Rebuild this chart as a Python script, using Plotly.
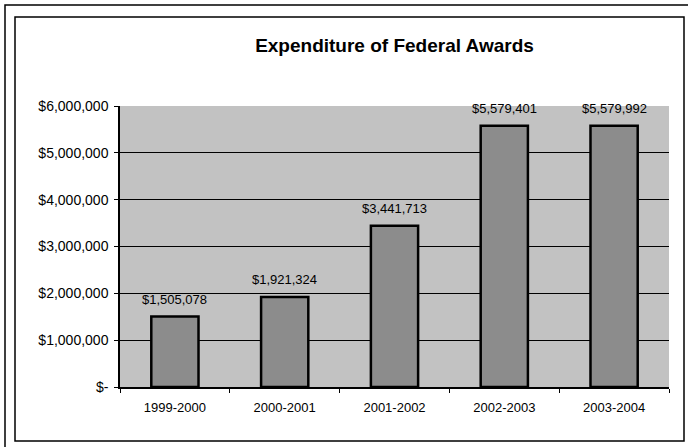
import plotly.graph_objects as go

categories = ["1999-2000", "2000-2001", "2001-2002", "2002-2003", "2003-2004"]
values = [1505078, 1921324, 3441713, 5579401, 5579992]
label_text = ["$1,505,078", "$1,921,324", "$3,441,713", "$5,579,401", "$5,579,992"]
y_tick_values = [0, 1000000, 2000000, 3000000, 4000000, 5000000, 6000000]
y_tick_labels = ["$-", "$1,000,000", "$2,000,000", "$3,000,000", "$4,000,000", "$5,000,000", "$6,000,000"]

W, H = 688, 447
font_family = "Liberation Sans, Arial, sans-serif"

fig = go.Figure(go.Bar(
    x=categories, y=values, cliponaxis=False,
    marker=dict(color="#8c8c8c", line=dict(color="#000000", width=2.5)),
    hoverinfo="skip",
))

for c, v, s in zip(categories, values, label_text):
    fig.add_annotation(x=c, y=v, text=s, showarrow=False, yanchor="bottom",
                       yshift=8, font=dict(family=font_family, size=13, color="#000000"))

l, r, t, b = 120, 19, 106, 60
pw, ph = W - l - r, H - t - b

def fx(px):
    return (px - l) / pw

def fy(py):
    return (H - b - py) / ph

shapes = [
    dict(type="rect", xref="paper", yref="paper", layer="below",
         x0=fx(5), x1=fx(693), y0=fy(452), y1=fy(5),
         line=dict(color="#000000", width=1.5), fillcolor="rgba(0,0,0,0)"),
    dict(type="rect", xref="paper", yref="paper", layer="below",
         x0=fx(15), x1=fx(684), y0=fy(441), y1=fy(17),
         line=dict(color="#000000", width=1.5), fillcolor="rgba(0,0,0,0)"),
]

fig.update_layout(
    width=W, height=H,
    margin=dict(l=l, r=r, t=t, b=b),
    paper_bgcolor="#ffffff",
    plot_bgcolor="#c2c2c2",
    bargap=0.57,
    showlegend=False,
    shapes=shapes,
    title=dict(text="<b>Expenditure of Federal Awards</b>",
               font=dict(family=font_family, size=19, color="#000000"),
               x=0.5, xanchor="center", xref="paper",
               y=1 - 45 / H, yanchor="middle", yref="container"),
    font=dict(family=font_family, size=12, color="#000000"),
    xaxis=dict(showline=True, linecolor="#000000", linewidth=1.5, mirror=False,
               ticks="outside", ticklen=4, tickcolor="#000000",
               tickson="boundaries", showgrid=False, ticklabelstandoff=8,
               tickfont=dict(family=font_family, size=13, color="#000000")),
    yaxis=dict(range=[0, 6000000], tickvals=y_tick_values, ticktext=y_tick_labels,
               showline=True, linecolor="#000000", linewidth=1.5,
               ticks="outside", ticklen=4, tickcolor="#000000",
               showgrid=True, gridcolor="#000000", gridwidth=1,
               zeroline=False, ticklabelstandoff=3,
               tickfont=dict(family=font_family, size=14, color="#000000")),
)

fig.write_html("out.html", config={"displayModeBar": False},
               post_script="document.body.style.margin='0px';")
